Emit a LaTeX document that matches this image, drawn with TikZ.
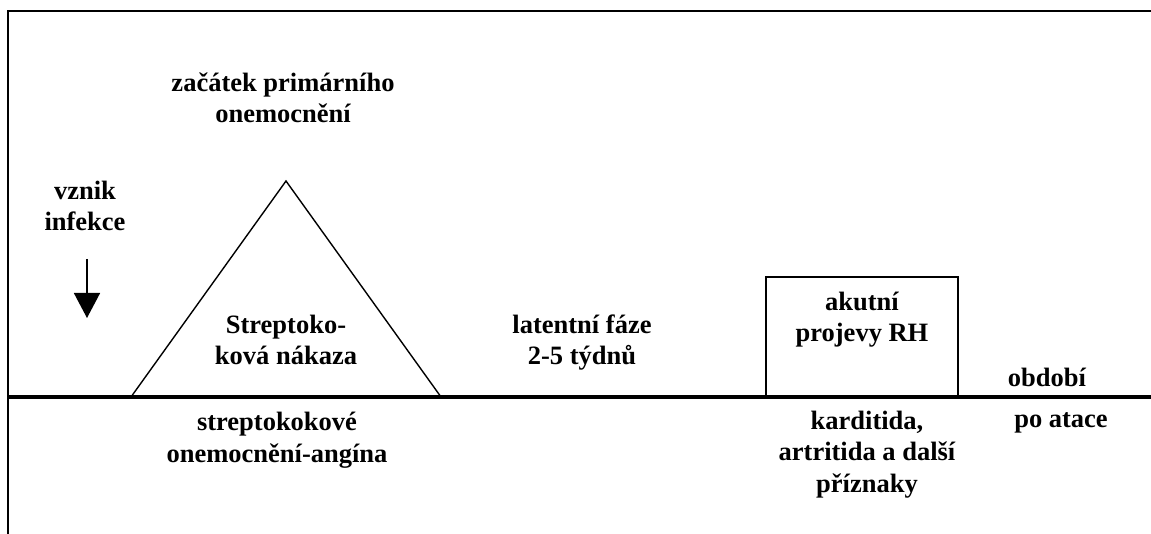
\documentclass[tikz,border=0pt]{standalone}
\usepackage{fontspec}
\setmainfont{Liberation Serif}
\usetikzlibrary{arrows.meta}
\begin{document}
\begin{tikzpicture}[x=1pt,y=-1pt,
  lbl/.style={font=\bfseries\fontsize{26.5}{31.5}\selectfont, align=center, inner sep=0pt, anchor=base},
  frame/.style={line width=2pt},
  axis/.style={line width=3.5pt},
  shapeline/.style={line width=1.4pt}]
\useasboundingbox (0,0) rectangle (1151,534);
% frame
\coordinate (fTL) at (8,11);
\coordinate (fTR) at (1151,11);
\coordinate (fBL) at (8,534);
\draw[frame] (fTR) -- (fTL) -- (fBL);
% time axis
\coordinate (axL) at (9,397);
\coordinate (axR) at (1151,397);
\draw[axis] (axL) -- (axR);
% triangle
\coordinate (tA) at (286,181);
\coordinate (tL) at (131,397);
\coordinate (tR) at (441,397);
\draw[shapeline, line join=miter] (tL) -- (tA) -- (tR);
% box
\coordinate (bBL) at (766,397);
\coordinate (bTR) at (958,277);
\draw[shapeline] (bBL) |- (bTR) -- (bTR |- bBL);
% arrow
\coordinate (arS) at (87,259);
\coordinate (arE) at (87,318);
\draw[line width=1.6pt, -{Triangle[width=26pt,length=25pt]}] (arS) -- (arE);
% texts (anchor = baseline of the last line)
\node[lbl] (zac) at (283,123) {začátek primárního\\onemocnění};
\node[lbl] (vz) at (85,231) {vznik\\infekce};
\node[lbl] (str) at (286,365) {Streptoko-\\ková nákaza};
\node[lbl] (lat) at (582,365) {latentní fáze\\2-5 týdnů};
\node[lbl] (aku) at (862,342) {akutní\\projevy RH};
\node[lbl] (obd) at (1047,386) {období};
\node[lbl] (poa) at (1061,428) {po atace};
\node[lbl] (stk) at (277,462) {streptokokové\\onemocnění-angína};
\node[lbl] (kar) at (867,492) {karditida,\\artritida a další\\příznaky};
\end{tikzpicture}
\end{document}
